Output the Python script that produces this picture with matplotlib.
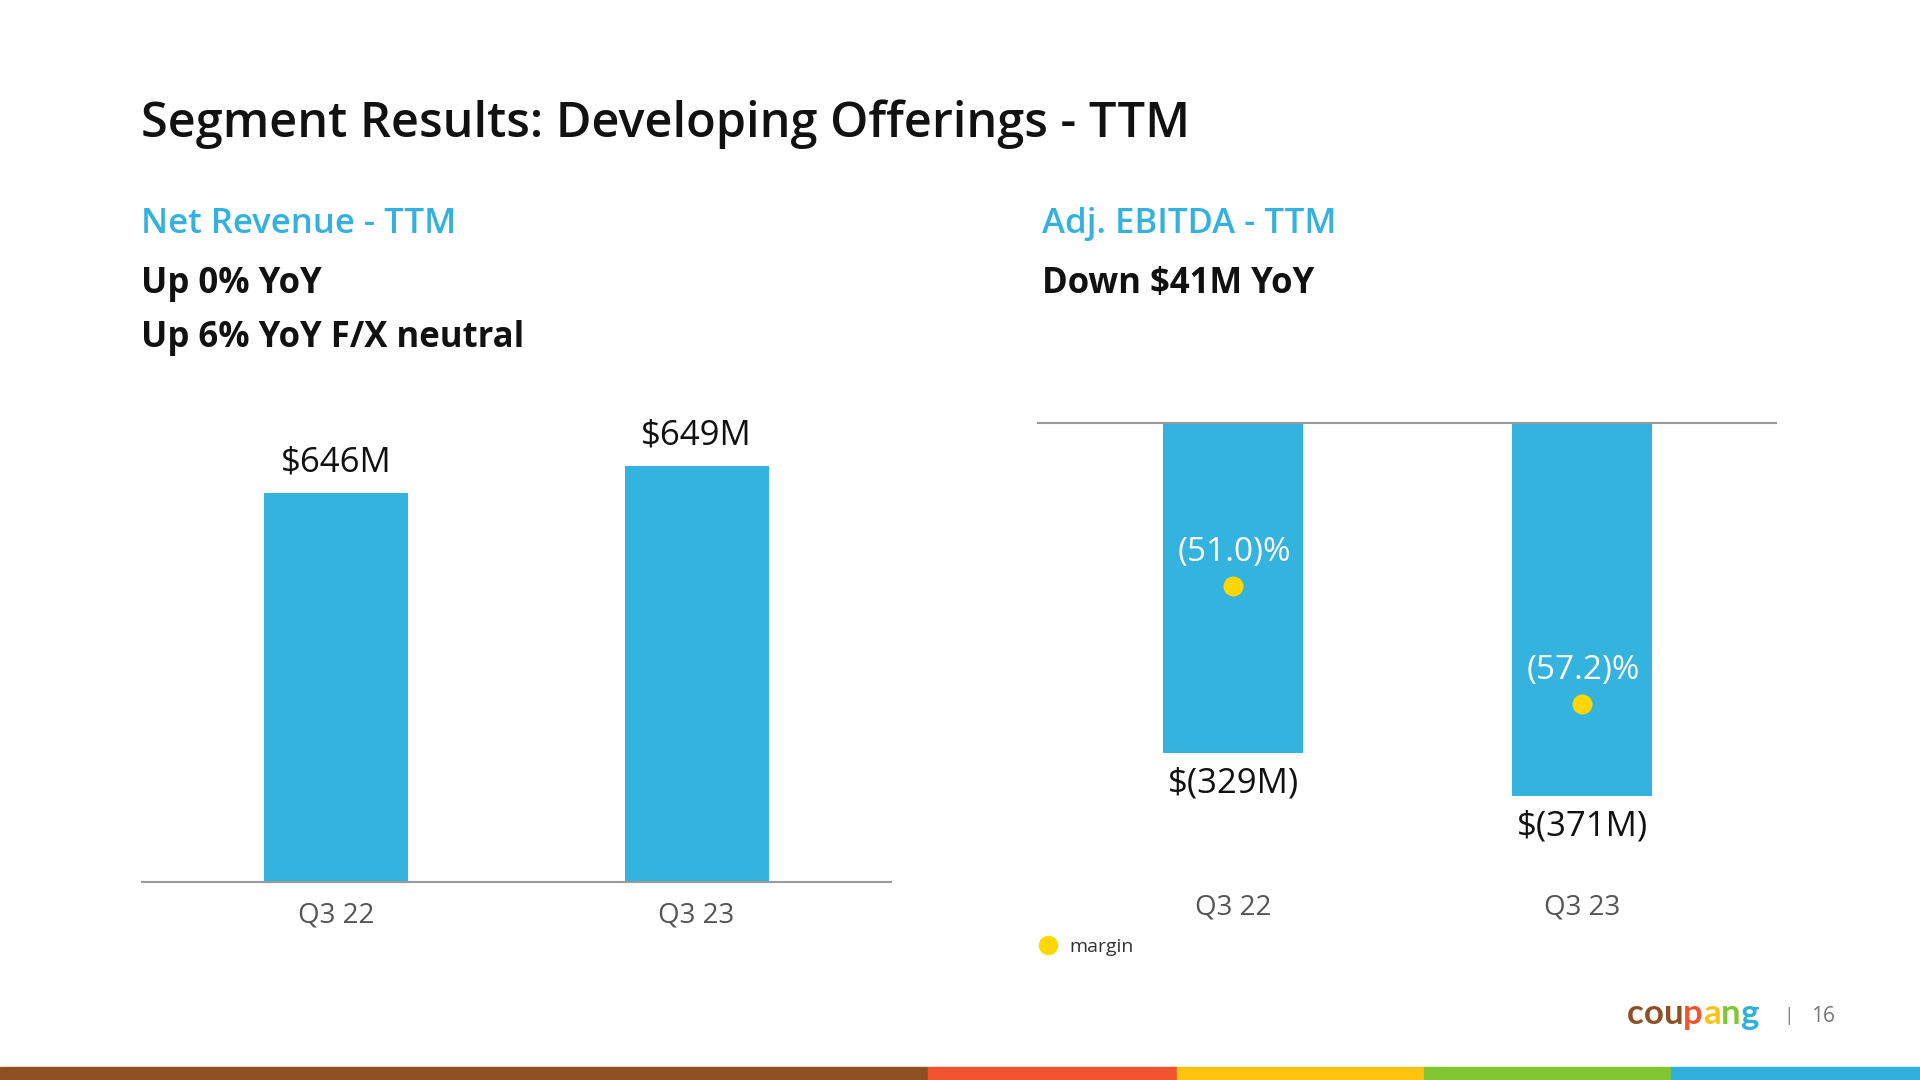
import matplotlib
matplotlib.use('Agg')
import matplotlib.pyplot as plt
from matplotlib.patches import Rectangle
from matplotlib.lines import Line2D

# Data
periods = ['Q3 22', 'Q3 23']
net_revenue = [646, 649]          # $M, TTM
adj_ebitda = [-329, -371]         # $M, TTM
margin = [-51.0, -57.2]           # % of revenue
revenue_labels = ['$646M', '$649M']
ebitda_labels = ['$(329M)', '$(371M)']
margin_labels = ['(51.0)%', '(57.2)%']

BLUE = '#33B3DD'
YELLOW = '#FFD700'
GRAY = '#555555'
FONT = 'Open Sans'

plt.rcParams['font.family'] = [FONT, 'DejaVu Sans']

fig = plt.figure(figsize=(19.2, 10.8), dpi=100)
W, H = 1920, 1080


def fx(px):
    return px / W


def fy(py):
    return 1 - py / H


# Headline texts
fig.text(fx(141), fy(124), 'Segment Results: Developing Offerings - TTM',
         fontsize=35, fontweight='semibold', color='#111111', va='center')
fig.text(fx(141), fy(224), 'Net Revenue - TTM', fontsize=25, fontweight='semibold',
         color='#35B1DF', va='center')
fig.text(fx(141), fy(284), 'Up 0% YoY', fontsize=25, fontweight='bold', color='#111111', va='center')
fig.text(fx(141), fy(338), 'Up 6% YoY F/X neutral', fontsize=25, fontweight='bold',
         color='#111111', va='center')
fig.text(fx(1042), fy(224), 'Adj. EBITDA - TTM', fontsize=25, fontweight='semibold',
         color='#35B1DF', va='center')
fig.text(fx(1042), fy(284), 'Down $41M YoY', fontsize=25, fontweight='bold',
         color='#111111', va='center')

x = list(range(len(periods)))

# Left chart: net revenue (truncated axis, as in the original slide)
ax1 = fig.add_axes([fx(142), fy(882), fx(891 - 142), (882 - 400) / H])
ax1.bar(x, net_revenue, width=0.4, color=BLUE)
ax1.set_xlim(-0.54, 1.54)
ax1.set_ylim(602.7, 656.4)
for i, v in enumerate(net_revenue):
    ax1.annotate(revenue_labels[i], (i, v), xytext=(0, 22), textcoords='offset points',
                 ha='center', va='center', fontsize=25, color='#111111')
ax1.set_xticks(x)
ax1.set_xticklabels(periods, fontsize=20, color=GRAY)
ax1.tick_params(axis='x', length=0, pad=14)
ax1.set_yticks([])
for s in ['top', 'left', 'right']:
    ax1.spines[s].set_visible(False)
ax1.spines['bottom'].set_color('#9A9A9A')
ax1.spines['bottom'].set_linewidth(1.5)

# Right chart: adj. EBITDA with margin dots
ax2 = fig.add_axes([fx(1038), fy(870), fx(1776 - 1038), (870 - 422.5) / H])
ax2.bar(x, adj_ebitda, width=0.4, color=BLUE)
ax2.set_xlim(-0.559, 1.556)
ax2.set_ylim(-445, 0)
for i, v in enumerate(adj_ebitda):
    ax2.annotate(ebitda_labels[i], (i, v), xytext=(0, -22), textcoords='offset points',
                 ha='center', va='center', fontsize=25, color='#111111')
ax2.set_xticks(x)
ax2.set_xticklabels(periods, fontsize=20, color=GRAY)
ax2.tick_params(axis='x', length=0, pad=17)
ax2.set_yticks([])
for s in ['bottom', 'left', 'right']:
    ax2.spines[s].set_visible(False)
ax2.spines['top'].set_color('#9A9A9A')
ax2.spines['top'].set_linewidth(1.5)

ax3 = ax2.twinx()
ax3.scatter(x, margin, s=180, color=YELLOW, zorder=3)
ax3.set_ylim(-65.9, -42.4)
ax3.axis('off')
for i, v in enumerate(margin):
    ax3.annotate(margin_labels[i], (i, v), xytext=(1, 24.5), textcoords='offset points',
                 ha='center', va='center', fontsize=24, color='white')

# Legend
handle = Line2D([], [], marker='o', linestyle='none', markersize=13, color=YELLOW)
fig.legend([handle], ['margin'], loc='center left', bbox_to_anchor=(fx(1027), fy(947)),
           frameon=False, fontsize=14, borderpad=0, handlelength=1.2, handletextpad=0.5,
           labelcolor='#333333')

# Logo and page number
logo_letters = ['c', 'o', 'u', 'p', 'a', 'n', 'g']
logo_colors = ['#8E5023', '#8E5023', '#8E5023', '#F4532F', '#FFC20E', '#82C731', '#30B1DC']
prev = None
for ch, col in zip(logo_letters, logo_colors):
    if prev is None:
        prev = fig.text(fx(1627), fy(1024), ch, fontsize=25, fontweight='bold',
                        color=col, va='baseline', family='Lato')
    else:
        prev = plt.annotate(ch, xy=(1, 0), xycoords=prev, fontsize=25, fontweight='bold',
                            color=col, va='bottom', ha='left', family='Lato')
fig.text(fx(1789), fy(1016), '|', fontsize=14, color='#888888', ha='center', va='center')
fig.text(fx(1823), fy(1016), '16', fontsize=15, color='#777777', ha='center', va='center')

# Bottom colour strip
strip_edges = [0, 928, 1177, 1424, 1671, 1920]
strip_colors = ['#8E5023', '#F4532F', '#FFC20E', '#82C731', '#30B1DC']
for i, col in enumerate(strip_colors):
    fig.patches.append(Rectangle((fx(strip_edges[i]), 0), fx(strip_edges[i + 1] - strip_edges[i]),
                                 13 / H, transform=fig.transFigure, color=col, zorder=5))

fig.savefig('out.png', dpi=100)
